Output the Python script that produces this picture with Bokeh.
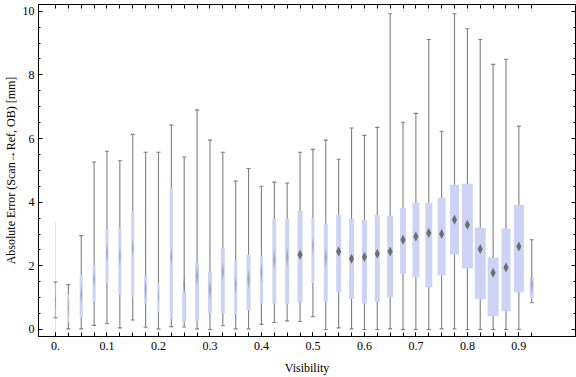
from bokeh.plotting import figure
from bokeh.models import Range1d, LinearAxis, FixedTicker, SingleIntervalTicker, ColumnDataSource
from bokeh.embed import file_html
from bokeh.resources import INLINE

# ---- data ----
visibility = [0.0, 0.025, 0.05, 0.075, 0.1, 0.125, 0.15, 0.175, 0.2, 0.225,
              0.25, 0.275, 0.3, 0.325, 0.35, 0.375, 0.4, 0.425, 0.45, 0.475,
              0.5, 0.525, 0.55, 0.575, 0.6, 0.625, 0.65, 0.675, 0.7, 0.725,
              0.75, 0.775, 0.8, 0.825, 0.85, 0.875, 0.9, 0.925]
whisker_low = [0.37, 0.02, 0.02, 0.13, 0.18, 0.05, 0.30, 0.07, 0.02, 0.09,
               0.08, 0.02, 0.00, 0.12, 0.02, 0.02, 0.16, 0.22, 0.27, 0.25,
               0.40, 0.00, 0.05, 0.02, 0.00, 0.00, 0.02, 0.00, 0.00, 0.00,
               0.02, 0.02, 0.00, 0.00, 0.00, 0.00, 0.00, 0.84]
q1 = [0.40, 0.23, 0.37, 0.87, 1.45, 1.08, 1.01, 0.82, 0.54, 0.33,
      0.24, 0.26, 0.51, 0.51, 0.48, 0.60, 0.82, 0.82, 0.79, 0.86,
      1.45, 0.89, 1.17, 0.96, 0.82, 0.86, 1.01, 1.76, 1.64, 1.33,
      1.70, 2.36, 1.92, 0.95, 0.42, 0.57, 1.17, 0.98]
center = [0.90, 0.69, 1.10, 1.57, 2.40, 2.30, 2.57, 1.25, 1.05, 2.30,
          1.40, 1.67, 1.25, 1.83, 1.41, 1.57, 1.78, 2.19, 2.28, 2.35,
          2.64, 2.25, 2.45, 2.22, 2.28, 2.38, 2.45, 2.82, 2.92, 3.03,
          3.00, 3.45, 3.29, 2.53, 1.78, 1.95, 2.61, 1.41]
q3 = [1.45, 1.09, 1.72, 2.03, 3.13, 3.17, 3.73, 1.69, 1.46, 4.45,
      1.22, 2.10, 1.82, 2.57, 2.16, 2.35, 2.32, 3.48, 3.48, 3.73,
      3.50, 3.32, 3.60, 3.48, 3.45, 3.60, 3.57, 3.82, 3.98, 3.98,
      4.14, 4.55, 4.58, 3.20, 2.26, 3.17, 3.92, 1.63]
whisker_high = [1.49, 1.41, 2.95, 5.26, 5.60, 5.30, 6.13, 5.57, 5.57, 6.42,
                5.42, 6.90, 5.95, 5.57, 4.66, 5.06, 4.50, 4.63, 4.60, 5.57,
                5.66, 5.95, 5.35, 6.33, 6.10, 6.35, 9.92, 6.51, 6.79, 9.11,
                6.23, 9.92, 9.45, 9.11, 8.33, 8.49, 6.39, 2.82]
# relative sample weight (drives the box width)
weight = [0.7, 2, 3, 3, 3, 3, 3, 3, 2, 3,
          4, 4, 4, 4, 3, 4, 3, 4, 4, 5,
          3, 4, 5, 5, 5, 5, 6, 6, 7, 7,
          8, 9, 11, 11, 11, 9, 10, 4]
# faint outlier trace at the first bin
faint_x = [0.0]
faint_top = [3.39]
faint_bottom = [-1.0]

x_ticks = [0.0, 0.1, 0.2, 0.3, 0.4, 0.5, 0.6, 0.7, 0.8, 0.9]

# ---- styling constants ----
X0, X1 = -0.033, 1.01
Y0, Y1 = -0.22, 10.21
FRAME_W, FRAME_H = 539, 333
px_x = (X1 - X0) / FRAME_W
px_y = (Y1 - Y0) / FRAME_H

BOX = "#ccd3f5"
GREY = "#7f7f7f"
FONT = "Liberation Serif"

p = figure(width=576, height=377, output_backend="svg", toolbar_location=None,
           x_range=Range1d(X0, X1), y_range=Range1d(Y0, Y1),
           min_border_left=36, min_border_right=1, min_border_top=4, min_border_bottom=40,
           x_axis_label="Visibility", y_axis_label="Absolute Error (Scan\u2192Ref, OB) [mm]")
p.xgrid.visible = False
p.ygrid.visible = False
p.outline_line_color = "black"
p.background_fill_color = "white"
p.border_fill_color = "white"

widths = [w * px_x for w in weight]
src = ColumnDataSource(dict(x=visibility, wl=whisker_low, wh=whisker_high,
                            q1=q1, q3=q3, c=center, w=widths))

# faint trace
p.segment(x0=faint_x, x1=faint_x, y0=faint_bottom, y1=faint_top, line_color="#e4e4e4", line_width=1)
# whiskers
p.segment(x0="x", x1="x", y0="wl", y1="wh", source=src, line_color=GREY, line_width=1.1)
p.scatter(x="x", y="wl", source=src, marker="dash", size=4, line_color=GREY, line_width=1.1)
p.scatter(x="x", y="wh", source=src, marker="dash", size=4, line_color=GREY, line_width=1.1)
# boxes
p.vbar(x="x", width="w", bottom="q1", top="q3", source=src, fill_color=BOX, line_color=None)

# centre diamonds
xs, ys, alphas = [], [], []
for xv, cv, wv in zip(visibility, center, weight):
    if wv >= 5:
        hw, hh, a = 2.6 * px_x, 5.0 * px_y, 1.0
    else:
        hw, hh, a = max(wv * 0.3, 0.4) * px_x, 10.0 * px_y, 0.4
    xs.append([xv - hw, xv, xv + hw, xv])
    ys.append([cv, cv + hh, cv, cv - hh])
    alphas.append(a)
p.patches(xs=xs, ys=ys, fill_color="#6e6e6e", fill_alpha=alphas, line_color=None)

# ---- axes ----
def style(ax):
    ax.axis_line_color = "black"
    ax.major_tick_line_color = "black"
    ax.minor_tick_line_color = "black"
    ax.major_tick_out = 0
    ax.minor_tick_out = 0
    ax.major_label_text_font = FONT
    ax.major_label_text_font_size = "12px"
    ax.major_label_text_color = "black"
    ax.axis_label_text_font = FONT
    ax.axis_label_text_font_size = "12px"
    ax.axis_label_text_font_style = "normal"
    ax.axis_label_text_color = "black"

xa = p.xaxis[0]
xa.ticker = FixedTicker(ticks=x_ticks, minor_ticks=visibility)
xa.major_label_overrides = {0: "0."}
xa.major_tick_in = 4
xa.minor_tick_in = 4
style(xa)
xa.major_label_standoff = 5
xa.axis_label_standoff = 8

ya = p.yaxis[0]
ya.ticker = SingleIntervalTicker(interval=2, num_minor_ticks=4)
ya.major_tick_in = 4
ya.minor_tick_in = 2
style(ya)
ya.major_label_standoff = 4
ya.axis_label_standoff = 2

ra = LinearAxis(ticker=SingleIntervalTicker(interval=2, num_minor_ticks=4))
style(ra)
ra.major_tick_in = 4
ra.minor_tick_in = 2
ra.major_label_text_font_size = "1px"
ra.major_label_text_color = None
ra.major_label_standoff = 0
p.add_layout(ra, "right")

ta = LinearAxis(ticker=FixedTicker(ticks=visibility))
style(ta)
ta.major_tick_in = 4
ta.major_label_text_font_size = "1px"
ta.major_label_text_color = None
ta.major_label_standoff = 0
p.add_layout(ta, "above")

open("out.html", "w").write(file_html(p, INLINE))
